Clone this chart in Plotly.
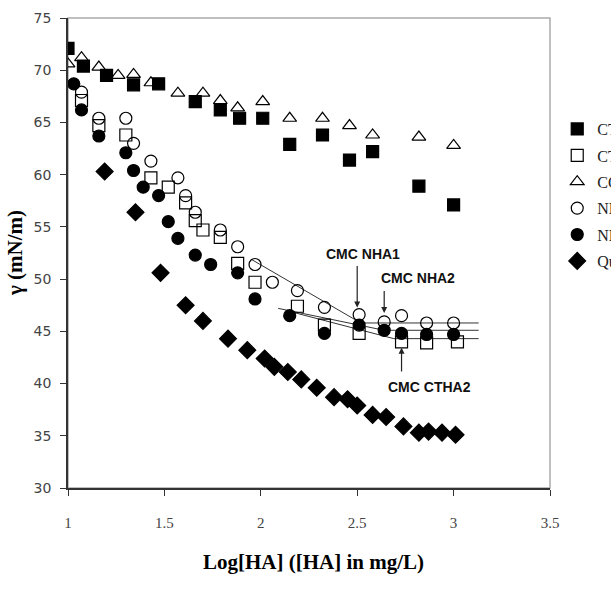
import plotly.graph_objects as go

# ---- data ----
ctha1_x = [1.00, 1.08, 1.20, 1.34, 1.47, 1.66, 1.79, 1.89, 2.01, 2.15, 2.32, 2.46, 2.58, 2.82, 3.00]
ctha1_y = [72.1, 70.4, 69.5, 68.6, 68.7, 67.0, 66.2, 65.4, 65.4, 62.9, 63.8, 61.4, 62.2, 58.9, 57.1]

ctha2_x = [1.07, 1.16, 1.30, 1.43, 1.52, 1.61, 1.66, 1.70, 1.79, 1.88, 1.97, 2.19, 2.33, 2.51, 2.73, 2.86, 3.02]
ctha2_y = [67.1, 64.7, 63.8, 59.7, 58.8, 57.3, 55.6, 54.7, 54.0, 51.5, 49.7, 47.4, 45.6, 44.8, 44.0, 43.9, 44.0]

coha_x = [1.00, 1.07, 1.16, 1.26, 1.34, 1.43, 1.57, 1.70, 1.79, 1.88, 2.01, 2.15, 2.32, 2.46, 2.58, 2.82, 3.00]
coha_y = [70.6, 71.2, 70.3, 69.5, 69.6, 68.8, 67.8, 67.8, 67.1, 66.4, 67.0, 65.4, 65.4, 64.7, 63.8, 63.6, 62.8]

nha1_x = [1.07, 1.16, 1.30, 1.34, 1.43, 1.57, 1.61, 1.66, 1.79, 1.88, 1.97, 2.06, 2.19, 2.33, 2.51, 2.64, 2.73, 2.86, 3.00]
nha1_y = [67.9, 65.4, 65.4, 63.0, 61.3, 59.7, 58.0, 56.4, 54.7, 53.1, 51.4, 49.7, 48.9, 47.3, 46.6, 45.9, 46.5, 45.8, 45.8]

nha2_x = [1.03, 1.07, 1.16, 1.30, 1.34, 1.39, 1.47, 1.52, 1.57, 1.66, 1.74, 1.88, 1.97, 2.15, 2.33, 2.51, 2.64, 2.73, 2.86, 3.00]
nha2_y = [68.7, 66.2, 63.7, 62.1, 60.4, 58.8, 58.0, 55.5, 53.9, 52.3, 51.4, 50.6, 48.1, 46.5, 44.8, 45.6, 45.1, 44.8, 44.7, 44.7]

qu_x = [1.19, 1.35, 1.48, 1.61, 1.70, 1.83, 1.93, 2.02, 2.07, 2.14, 2.21, 2.29, 2.38, 2.45, 2.50, 2.58, 2.65, 2.74, 2.82, 2.87, 2.94, 3.01]
qu_y = [60.3, 56.4, 50.6, 47.5, 46.0, 44.3, 43.2, 42.4, 41.6, 41.1, 40.4, 39.6, 38.7, 38.5, 37.9, 37.0, 36.8, 35.9, 35.3, 35.4, 35.3, 35.1]

series_names = ["CTHA1", "CTHA2", "COHA", "NHA1", "NHA2", "Quillaja"]

# fitted lines (pre-CMC and post-CMC)
fit_lines = [
    ([1.95, 2.50], [51.9, 46.0]),
    ([2.50, 3.13], [45.8, 45.8]),
    ([2.09, 2.64], [47.2, 45.1]),
    ([2.64, 3.13], [45.1, 45.1]),
    ([2.13, 2.69], [47.0, 44.3]),
    ([2.69, 3.13], [44.3, 44.3]),
]

x_ticks = [1, 1.5, 2, 2.5, 3, 3.5]
x_tick_text = ["1", "1.5", "2", "2.5", "3", "3.5"]
y_ticks = [30, 35, 40, 45, 50, 55, 60, 65, 70, 75]

fig = go.Figure()

for fx, fy in fit_lines:
    fig.add_trace(go.Scatter(x=fx, y=fy, mode="lines", line=dict(color="#333", width=1),
                             showlegend=False, hoverinfo="skip"))

styles = [
    (ctha1_x, ctha1_y, "square", "black", 12),
    (ctha2_x, ctha2_y, "square-open", "black", 12),
    (coha_x, coha_y, "triangle-up-open", "black", 12),
    (nha1_x, nha1_y, "circle-open", "black", 12),
    (nha2_x, nha2_y, "circle", "black", 12),
    (qu_x, qu_y, "diamond", "black", 13),
]
for name, (xs, ys, sym, col, sz) in zip(series_names, styles):
    fig.add_trace(go.Scatter(
        x=xs, y=ys, mode="markers", name=name, legendgroup=name,
        marker=dict(symbol=sym, size=sz, color=col,
                    line=dict(color="black", width=1.2)),
    ))

# gray plot-area frame (top/right)
fig.add_shape(type="rect", xref="paper", yref="paper", x0=0, y0=0, x1=1, y1=1,
              line=dict(color="#aaa", width=1.5), layer="below")

arrow_font = dict(family="Liberation Sans", size=14, color="#111")
fig.add_annotation(x=2.5, y=46.6, ax=2.5, ay=51.4, axref="x", ayref="y",
                   text="", showarrow=True, arrowhead=2, arrowsize=1, arrowwidth=1.2,
                   arrowcolor="#222", standoff=7)
fig.add_annotation(x=2.5, y=52.4, text="<b>CMC NHA1</b>", showarrow=False,
                   font=arrow_font, yanchor="middle", xshift=6)
fig.add_annotation(x=2.64, y=45.9, ax=2.64, ay=49.0, axref="x", ayref="y",
                   text="", showarrow=True, arrowhead=2, arrowsize=1, arrowwidth=1.2,
                   arrowcolor="#222", standoff=9)
fig.add_annotation(x=2.64, y=50.1, text="<b>CMC NHA2</b>", showarrow=False,
                   font=arrow_font, yanchor="middle", xshift=34)
fig.add_annotation(x=2.73, y=44.0, ax=2.73, ay=41.0, axref="x", ayref="y",
                   text="", showarrow=True, arrowhead=2, arrowsize=1, arrowwidth=1.2,
                   arrowcolor="#222", standoff=6)
fig.add_annotation(x=2.73, y=39.65, text="<b>CMC CTHA2</b>", showarrow=False,
                   font=arrow_font, yanchor="middle", xshift=28)

# axis titles
fig.add_annotation(xref="paper", yref="paper", x=0.51, y=-0.158, yanchor="middle",
                   text="<b>Log[HA] ([HA] in mg/L)</b>", showarrow=False,
                   font=dict(family="Liberation Serif", size=21, color="black"))
fig.add_annotation(xref="paper", yref="paper", x=-0.11, y=0.5, xanchor="center",
                   text="<b>γ (mN/m)</b>", textangle=-90, showarrow=False,
                   font=dict(family="Liberation Serif", size=21, color="black"))

fig.update_layout(
    width=611, height=609,
    margin=dict(l=68, r=61, t=18, b=121, autoexpand=False),
    paper_bgcolor="white", plot_bgcolor="white",
    showlegend=True,
    legend=dict(x=1.015, y=0.80, xanchor="left", yanchor="top",
                font=dict(family="Liberation Serif", size=16, color="#222"),
                bgcolor="rgba(0,0,0,0)", tracegroupgap=2.6),
    xaxis=dict(range=[1, 3.5], tickvals=x_ticks, ticktext=x_tick_text,
               showgrid=False, zeroline=False, showline=True, linecolor="#333", linewidth=1.5,
               ticks="outside", ticklen=6, tickcolor="#333", ticklabelstandoff=14,
               tickfont=dict(family="Liberation Serif", size=15, color="#444")),
    yaxis=dict(range=[30, 75], tickvals=y_ticks,
               showgrid=False, zeroline=False, showline=True, linecolor="#333", linewidth=1.5,
               ticks="outside", ticklen=6, tickcolor="#333", ticklabelstandoff=6,
               tickfont=dict(family="DejaVu Sans", size=14, color="#444")),
)

fig.write_html("out.html")
